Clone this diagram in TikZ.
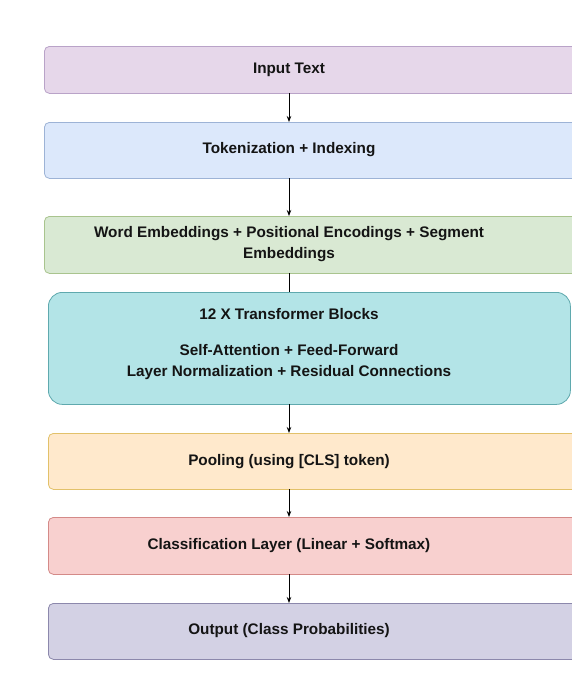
\documentclass[tikz,border=0pt]{standalone}
\usepackage{fontspec}
\setmainfont{Liberation Sans}
\usetikzlibrary{arrows.meta}
\definecolor{pfill}{HTML}{E6D7EA}\definecolor{pdraw}{HTML}{B9A3C8}
\definecolor{bfill}{HTML}{DCE8FB}\definecolor{bdraw}{HTML}{9DB3D6}
\definecolor{gfill}{HTML}{D9E9D3}\definecolor{gdraw}{HTML}{A9C48E}
\definecolor{tfill}{HTML}{B3E4E7}\definecolor{tdraw}{HTML}{5FA9AE}
\definecolor{ofill}{HTML}{FFE9CC}\definecolor{odraw}{HTML}{E2C16A}
\definecolor{rfill}{HTML}{F8D0CF}\definecolor{rdraw}{HTML}{D48A88}
\definecolor{vfill}{HTML}{D3D1E4}\definecolor{vdraw}{HTML}{8C88AC}
\tikzset{
  box/.style={draw, line width=0.8pt, rounded corners=5pt, anchor=north west, inner sep=0pt},
  lbl/.style={font=\bfseries\fontsize{15.3}{20.5}\selectfont, align=center, text=black!92},
  conn/.style={line width=0.9pt, -{Stealth[length=6pt,width=4.5pt]}},
  plain/.style={line width=0.9pt}
}
\begin{document}
\begin{tikzpicture}[x=1pt,y=-1pt]
\useasboundingbox (0,0) rectangle (572,680);
\fill[white] (0,0) rectangle (572,680);
\begin{scope}
\clip (0,0) rectangle (572,680);
\node[box, fill=pfill, draw=pdraw, minimum width=540, minimum height=47] (b1) at (44,46) {};
\node[box, fill=bfill, draw=bdraw, minimum width=540, minimum height=56] (b2) at (44,122) {};
\node[box, fill=gfill, draw=gdraw, minimum width=540, minimum height=57] (b3) at (44,216) {};
\node[box, fill=tfill, draw=tdraw, rounded corners=14pt, minimum width=522, minimum height=112] (b4) at (48,292) {};
\node[box, fill=ofill, draw=odraw, minimum width=540, minimum height=56] (b5) at (48,433) {};
\node[box, fill=rfill, draw=rdraw, minimum width=540, minimum height=57] (b6) at (48,517) {};
\node[box, fill=vfill, draw=vdraw, minimum width=540, minimum height=56] (b7) at (48,603) {};
\end{scope}
\node[lbl] (t1) at (289,70) {Input Text};
\node[lbl] (t2) at (289,150) {Tokenization + Indexing};
\node[lbl] (t3) at (289,244) {Word Embeddings + Positional Encodings + Segment\\Embeddings};
\node[lbl] (t4a) at (289,314) {12 X Transformer Blocks};
\node[lbl] (t4b) at (289,362) {Self-Attention + Feed-Forward\\Layer Normalization + Residual Connections};
\node[lbl] (t5) at (289,462) {Pooling (using [CLS] token)};
\node[lbl] (t6) at (289,546) {Classification Layer (Linear + Softmax)};
\node[lbl] (t7) at (289,631) {Output (Class Probabilities)};
\coordinate (a1s) at (289,93);  \coordinate (a1e) at (289,122);
\coordinate (a2s) at (289,178); \coordinate (a2e) at (289,216);
\coordinate (a3s) at (289,273); \coordinate (a3e) at (289,292);
\coordinate (a4s) at (289,404); \coordinate (a4e) at (289,433);
\coordinate (a5s) at (289,489); \coordinate (a5e) at (289,517);
\coordinate (a6s) at (289,574); \coordinate (a6e) at (289,603);
\draw[conn] (a1s) -- (a1e);
\draw[conn] (a2s) -- (a2e);
\draw[plain] (a3s) -- (a3e);
\draw[conn] (a4s) -- (a4e);
\draw[conn] (a5s) -- (a5e);
\draw[conn] (a6s) -- (a6e);
\end{tikzpicture}
\end{document}
